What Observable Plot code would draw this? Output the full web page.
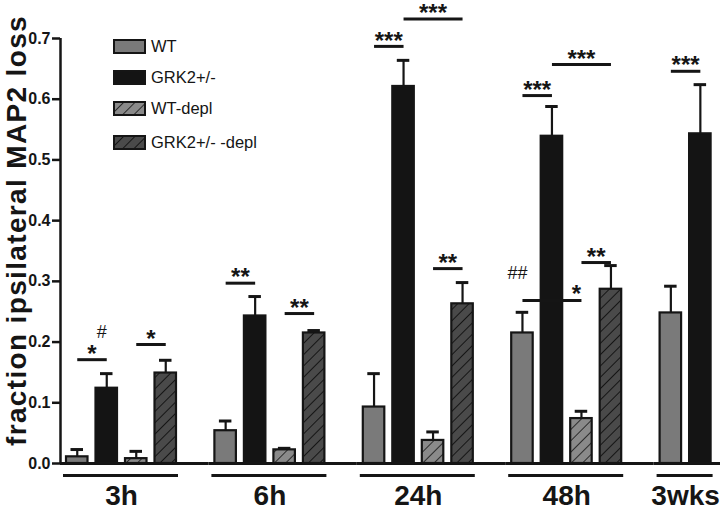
<!DOCTYPE html>
<html>
<head>
<meta charset="utf-8">
<script src="https://cdn.jsdelivr.net/npm/d3@7"></script>
<script src="https://cdn.jsdelivr.net/npm/@observablehq/plot@0.6"></script>
<style>
  body { margin: 0; background: #fff; }
  #wrap { position: relative; width: 720px; height: 510px; font-family: "Liberation Sans", Arial, Helvetica, sans-serif; color: #151515; }
  #legend { position: absolute; left: 113px; top: 0; }
  .row { position: absolute; left: 0; display: flex; align-items: center; white-space: nowrap; font-size: 16.5px; }
  .row svg { display: block; margin-right: 4px; }
</style>
</head>
<body>
<svg width="0" height="0" style="position:absolute">
  <defs>
    <pattern id="hatchLight" patternUnits="userSpaceOnUse" width="8" height="8" patternTransform="rotate(45)">
      <rect width="8" height="8" fill="#8a8a8a"></rect>
      <line x1="0" y1="0" x2="0" y2="8" stroke="#2b2b2b" stroke-width="2"></line>
    </pattern>
    <pattern id="hatchDark" patternUnits="userSpaceOnUse" width="8" height="8" patternTransform="rotate(45)">
      <rect width="8" height="8" fill="#4a4a4a"></rect>
      <line x1="0" y1="0" x2="0" y2="8" stroke="#151515" stroke-width="2"></line>
    </pattern>
  </defs>
</svg>
<div id="wrap"><div id="legend"></div></div>
<script>
// ---------- data ----------
const groups = ["3h", "6h", "24h", "48h", "3wks"];
const seriesNames = ["WT", "GRK2+/-", "WT-depl", "GRK2+/- -depl"];
const wtMean      = [0.011, 0.054, 0.093, 0.215, 0.248];
const wtErr       = [0.012, 0.016, 0.055, 0.034, 0.044];
const grk2Mean    = [0.124, 0.243, 0.621, 0.539, 0.543];
const grk2Err     = [0.024, 0.032, 0.043, 0.049, 0.081];
const wtDeplMean  = [0.008, 0.0225, 0.038, 0.074];
const wtDeplErr   = [0.012, 0.0025, 0.014, 0.012];
const grk2DeplMean = [0.149, 0.215, 0.263, 0.287];
const grk2DeplErr  = [0.021, 0.004, 0.035, 0.039];
const yTicks = [0, 0.1, 0.2, 0.3, 0.4, 0.5, 0.6, 0.7];
const yLabel = "fraction ipsilateral MAP2 loss";

// significance brackets: group, from series, to series, level, label
const sigGroup = ["3h", "3h", "6h", "6h", "24h", "24h", "24h", "48h", "48h", "48h", "48h", "3wks"];
const sigFrom  = ["WT", "WT-depl", "WT", "WT-depl", "WT", "GRK2+/-", "WT-depl", "WT", "GRK2+/-", "WT", "WT-depl", "WT"];
const sigTo    = ["GRK2+/-", "GRK2+/- -depl", "GRK2+/-", "GRK2+/- -depl", "GRK2+/-", "GRK2+/- -depl", "GRK2+/- -depl", "GRK2+/-", "GRK2+/- -depl", "WT-depl", "GRK2+/- -depl", "GRK2+/-"];
const sigY     = [0.171, 0.196, 0.297, 0.247, 0.687, 0.732, 0.321, 0.606, 0.657, 0.2685, 0.331, 0.646];
const sigLabel = ["*", "*", "**", "**", "***", "***", "**", "***", "***", "", "**", "***"];

// extra marks
const extraGroup  = ["3h", "48h", "48h"];
const extraSeries = ["GRK2+/-", "WT", "WT-depl"];
const extraY      = [0.217, 0.313, 0.288];
const extraLabel  = ["#", "##", "*"];

// ---------- styling / layout ----------
const fills = ["#7a7a7a", "#141414", "url(#hatchLight)", "url(#hatchDark)"];
const INK = "#151515";
const FONT = '"Liberation Sans", Arial, Helvetica, sans-serif';
const LEFT = 60, GROUP_STEP = 148.4, BAR_STEP = 29.5, BAR_W = 21.5, FIRST_OFFSET = 6;
const nS = seriesNames.length;
const xPadInner = 1 - BAR_W / BAR_STEP;
const used = BAR_STEP * (nS - xPadInner);
const xPadOuter = (GROUP_STEP / BAR_STEP - (nS - xPadInner)) / 2;
const xAlign = FIRST_OFFSET / (GROUP_STEP - used);

// ---------- tables ----------
const means = [wtMean, grk2Mean, wtDeplMean, grk2DeplMean];
const errs = [wtErr, grk2Err, wtDeplErr, grk2DeplErr];
const bars = [];
groups.forEach((g, i) => seriesNames.forEach((s, j) => {
  if (means[j][i] !== undefined) bars.push({group: g, series: s, value: means[j][i], err: errs[j][i]});
}));
const sigs = sigGroup.map((g, i) => {
  const a = seriesNames.indexOf(sigFrom[i]), b = seriesNames.indexOf(sigTo[i]);
  const even = (b - a) % 2 === 0;
  return {group: g, from: sigFrom[i], to: sigTo[i], y: sigY[i], label: sigLabel[i],
          even, anchor: seriesNames[even ? (a + b) / 2 : (a + b - 1) / 2]};
});
const extras = extraGroup.map((g, i) => ({group: g, series: extraSeries[i], y: extraY[i], label: extraLabel[i]}));
const groupInfo = groups.map(g => {
  const present = bars.filter(d => d.group === g).map(d => d.series);
  const n = present.length;
  return {group: g, first: present[0], last: present[n - 1], anchor: present[n / 2 - 1]};
});
const yMid = (yTicks[0] + yTicks[yTicks.length - 1]) / 2;

const plot = Plot.plot({
  width: 720, height: 510,
  marginLeft: LEFT, marginRight: 7, marginTop: 38, marginBottom: 47,
  style: {background: "#fff", color: INK, fontFamily: FONT, fontSize: "16px", fontWeight: "bold"},
  fx: {domain: groups, range: [LEFT, LEFT + GROUP_STEP * groups.length], padding: 0, round: false, axis: null, label: null},
  x: {domain: seriesNames, paddingInner: xPadInner, paddingOuter: xPadOuter, align: xAlign, round: false, axis: null, label: null},
  y: {domain: [0, 0.7], label: null},
  color: {domain: seriesNames, range: fills},
  marks: [
    Plot.ruleY([0], {stroke: INK, strokeWidth: 3}),
    Plot.barY(bars, {fx: "group", x: "series", y: "value", fill: "series", stroke: INK, strokeWidth: 2.2}),
    Plot.ruleX(bars, {fx: "group", x: "series", y1: "value", y2: d => d.value + d.err, stroke: INK, strokeWidth: 2.2}),
    Plot.tickY(bars, {fx: "group", x: "series", y: d => d.value + d.err, stroke: INK, strokeWidth: 3, insetLeft: 4.5, insetRight: 4.5}),
    Plot.ruleX(groupInfo.slice(0, 1), {fx: "group", x: "first", y1: 0, y2: 0.7, dx: -(FIRST_OFFSET + BAR_W / 2), stroke: INK, strokeWidth: 2.5}),
    Plot.axisY({ticks: yTicks, tickSize: 8, tickPadding: 2, tickFormat: d3.format(".1f"), strokeWidth: 2.5, stroke: INK, fontSize: 16, fontWeight: "bold", label: null}),
    Plot.link(sigs, {fx: "group", x1: "from", x2: "to", y1: "y", y2: "y", stroke: INK, strokeWidth: 3}),
    Plot.text(sigs.filter(d => d.even), {fx: "group", x: "anchor", y: "y", text: "label", fontSize: 24, fontWeight: "bold", dy: -5.5, fill: INK}),
    Plot.text(sigs.filter(d => !d.even), {fx: "group", x: "anchor", y: "y", text: "label", fontSize: 24, fontWeight: "bold", dx: BAR_STEP / 2, dy: -5.5, fill: INK}),
    Plot.text(extras.filter(d => d.label.startsWith("#")), {fx: "group", x: "series", y: "y", text: "label", fontSize: 18, fontWeight: "normal", dx: -5, fill: INK}),
    Plot.text(extras.filter(d => !d.label.startsWith("#")), {fx: "group", x: "series", y: "y", text: "label", fontSize: 24, fontWeight: "bold", dx: -5, dy: 6, fill: INK}),
    Plot.ruleY(groupInfo, {fx: "group", x1: "first", x2: "last", y: () => 0, dy: 12, insetLeft: -3, insetRight: -2, stroke: INK, strokeWidth: 3}),
    Plot.text(groupInfo, {fx: "group", x: "anchor", y: () => 0, text: "group", dx: BAR_STEP / 2, dy: 22, lineAnchor: "top", fontSize: 28, fontWeight: "bold", fill: INK}),
    Plot.text(groupInfo.slice(0, 1), {fx: "group", frameAnchor: "left", y: () => yMid, text: () => yLabel, rotate: -90, textAnchor: "middle", lineAnchor: "middle", dx: -43.5, dy: -20.5, fontSize: 28, fontWeight: "bold", fill: INK})
  ]
});
d3.select(plot).selectAll("text").filter(function () { return this.textContent === yLabel; })
  .attr("letter-spacing", "1.35px");
const wrap = document.getElementById("wrap");
wrap.insertBefore(plot, wrap.firstChild);

// legend (inside the plot area, top-left)
const legendTops = [37, 68, 99, 133];
const legend = d3.select("#legend");
seriesNames.forEach((s, i) => {
  const row = legend.append("div").attr("class", "row").style("top", legendTops[i] + "px");
  const sw = row.append("svg").attr("width", 34).attr("height", 16);
  sw.append("rect").attr("x", 1).attr("y", 1).attr("width", 31).attr("height", 13)
    .attr("fill", fills[i]).attr("stroke", INK).attr("stroke-width", 2);
  row.append("span").text(s);
});
</script>
</body>
</html>
